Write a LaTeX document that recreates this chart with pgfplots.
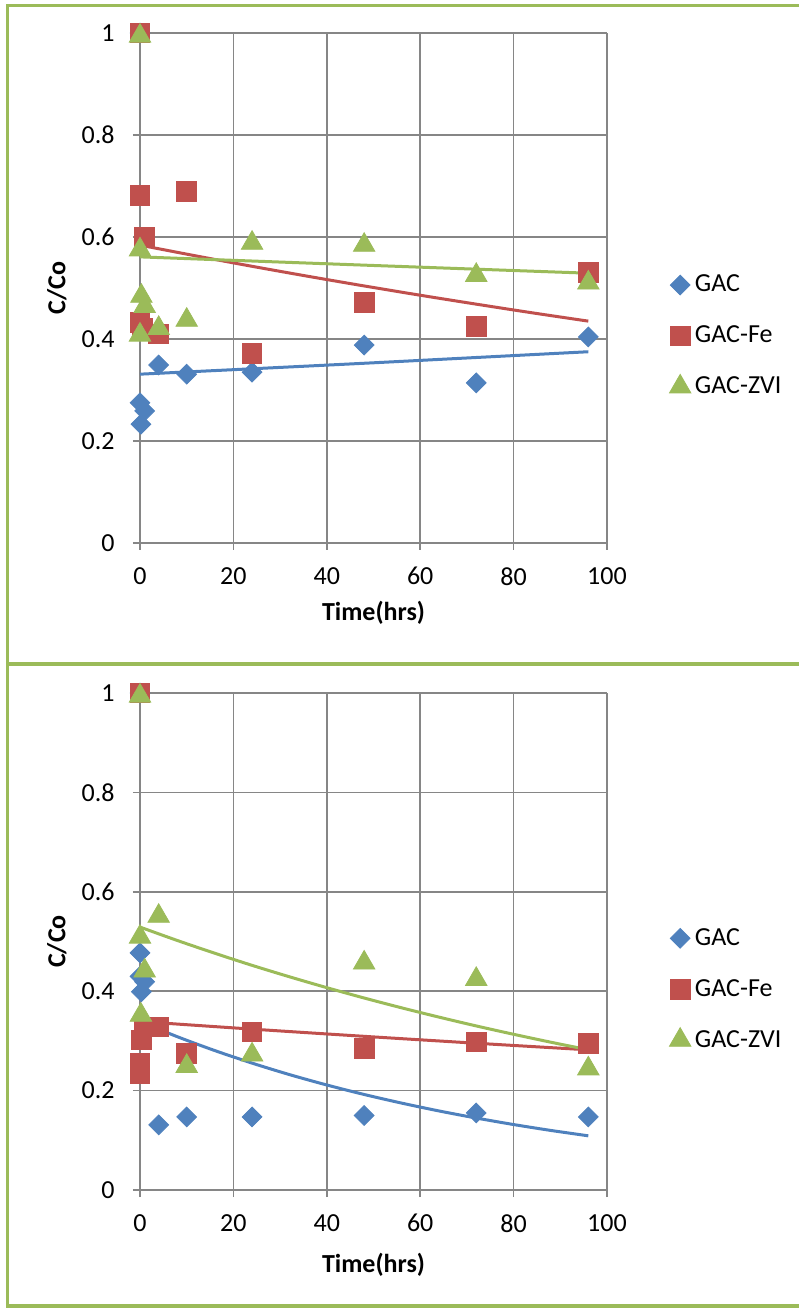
\documentclass[border=0pt]{standalone}
\usepackage{pgfplots}
\pgfplotsset{compat=1.18}
\usepackage{fontspec}
\setmainfont{Carlito}
\definecolor{cblue}{HTML}{4F81BD}
\definecolor{cred}{HTML}{C0504D}
\definecolor{cgreen}{HTML}{9BBB59}
\definecolor{cgrid}{HTML}{868686}
\newcommand{\fs}{\fontsize{13}{15.6}\selectfont}
\pgfplotsset{
  mystyle/.style={
    scale only axis, width=233.5pt,
    xmin=0, xmax=100, ymin=0, ymax=1,
    xtick={0,20,40,60,80,100}, ytick={0,0.2,0.4,0.6,0.8,1},
    grid=major, grid style={cgrid, line width=0.8pt},
    axis x line*=bottom, axis y line*=left,
    axis line style={cgrid, line width=0.8pt},
    tick align=outside, major tick length=3.5pt,
    tick style={cgrid, line width=0.8pt},
    /pgf/number format/assume math mode=true,
    tick label style={font=\fs, text=black},
    yticklabel style={anchor=east, inner sep=0pt, xshift=-9pt},
    xticklabel style={anchor=north, inner sep=0pt, yshift=-8.5pt},
    every axis y label/.style={at={(axis description cs:-0.178,0.5)}, anchor=center, rotate=90, font=\bfseries\fs},
    ylabel={C/Co}, xlabel={Time(hrs)},
    clip=false,
    legend style={draw=none, fill=none, font=\fs, anchor=west, row sep=11.5pt},
    legend cell align=left,
  },
  gac/.style={only marks, mark=square*, mark size=3.5pt, mark options={rotate=45, fill=cblue, draw=cblue}, color=cblue},
  gacfe/.style={only marks, mark=square*, mark size=4.9pt, mark options={fill=cred, draw=cred}, color=cred},
  gaczvi/.style={only marks, mark=triangle*, mark size=6.2pt, mark options={fill=cgreen, draw=cgreen}, color=cgreen},
  trend/.style={no marks, line width=1.5pt, forget plot, smooth},
}
\begin{document}
\begin{tikzpicture}
\useasboundingbox (0,0) rectangle (399.5pt,655.5pt);
% ---------------- top panel ----------------
\begin{axis}[mystyle, at={(70pt,384pt)}, anchor=south west, height=255pt,
  every axis x label/.style={at={(axis description cs:0.5,-0.137)}, anchor=center, font=\bfseries\fs},
  legend style={at={(axis description cs:1.120,0.406)}}]
\addplot[gac] coordinates {(0,1) (0,0.275) (1,0.259) (0.2,0.233) (4,0.349) (10,0.331) (24,0.335) (48,0.388) (72,0.314) (96,0.404)};
\addlegendentry{GAC}
\addplot[gacfe] coordinates {(0,1) (0,0.682) (1,0.60) (0,0.433) (0.5,0.422) (4,0.41) (10,0.689) (24,0.372) (48,0.472) (72,0.425) (96,0.531)};
\addlegendentry{GAC-Fe}
\addplot[gaczvi] coordinates {(0,0.994) (0,0.575) (0.3,0.484) (1,0.464) (0,0.408) (4,0.421) (10,0.437) (24,0.588) (48,0.584) (72,0.525) (96,0.510)};
\addlegendentry{GAC-ZVI}
\addplot[trend, cblue] coordinates {(0,0.331) (24,0.3416) (48,0.3524) (72,0.3637) (96,0.375)};
\addplot[trend, cred] coordinates {(0,0.584) (12,0.5629) (24,0.5425) (36,0.5229) (48,0.5040) (60,0.4858) (72,0.4683) (84,0.4513) (96,0.435)};
\addplot[trend, cgreen] coordinates {(0,0.561) (48,0.5448) (96,0.529)};
\end{axis}
% ---------------- bottom panel ----------------
\begin{axis}[mystyle, at={(70pt,60.5pt)}, anchor=south west, height=248.5pt,
  every axis x label/.style={at={(axis description cs:0.5,-0.151)}, anchor=center, font=\bfseries\fs},
  legend style={at={(axis description cs:1.120,0.404)}}]
\addplot[gac] coordinates {(0,1) (0,0.477) (0,0.43) (1,0.419) (0.3,0.399) (4,0.131) (10,0.147) (24,0.147) (48,0.15) (72,0.155) (96,0.147)};
\addlegendentry{GAC}
\addplot[gacfe] coordinates {(0,1) (0.3,0.302) (0,0.255) (0,0.235) (1,0.328) (4,0.328) (10,0.275) (24,0.318) (48,0.285) (72,0.298) (96,0.295)};
\addlegendentry{GAC-Fe}
\addplot[gaczvi] coordinates {(0,0.994) (0,0.509) (4,0.551) (1,0.441) (0.2,0.352) (10,0.249) (24,0.272) (48,0.457) (72,0.424) (96,0.244)};
\addlegendentry{GAC-ZVI}
\addplot[trend, cblue] coordinates {(0,0.339) (8,0.3084) (16,0.2806) (24,0.2553) (32,0.2322) (40,0.2113) (48,0.1922) (56,0.1749) (64,0.1591) (72,0.1448) (80,0.1317) (88,0.1198) (96,0.109)};
\addplot[trend, cred] coordinates {(0,0.339) (24,0.3237) (48,0.3092) (72,0.2953) (96,0.282)};
\addplot[trend, cgreen] coordinates {(0,0.529) (8,0.502) (16,0.4764) (24,0.452) (32,0.429) (40,0.4071) (48,0.3863) (56,0.3666) (64,0.3479) (72,0.3301) (80,0.3133) (88,0.2973) (96,0.2821)};
\end{axis}
% ---------------- frames ----------------
\draw[cgreen, line width=1.8pt] (399.5pt,652.65pt) -- (3.75pt,652.65pt) -- (3.75pt,2.5pt) -- (399.5pt,2.5pt);
\draw[cgreen, line width=1.8pt] (3.75pt,323.5pt) -- (399.5pt,323.5pt);
\end{tikzpicture}
\end{document}
